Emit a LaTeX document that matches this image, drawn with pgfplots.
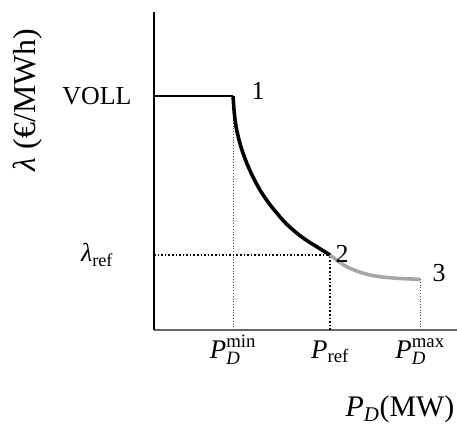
\documentclass[border=0pt]{standalone}
\usepackage{amsmath}
\usepackage{fontspec}
\setmainfont{Liberation Serif}
\usepackage{pgfplots}
\pgfplotsset{compat=1.18}
\begin{document}
\begin{tikzpicture}
\begin{axis}[
  name=ax,
  scale only axis,
  width=303bp, height=318bp,
  xmin=0, xmax=303, ymin=0, ymax=318,
  axis lines=left,
  axis line style={-, line width=1.3pt},
  x axis line style={draw=black!60},
  y axis line style={draw=black},
  clip=false,
  major tick length=0pt,
  xtick={79,176,266},
  xticklabels={{$\text{\itshape P}_{\text{\itshape D}}^{\text{min}}$},{$\text{\itshape P}_{\text{ref}}$},{$\text{\itshape P}_{\text{\itshape D}}^{\text{max}}$}},
  ytick={75,234},
  yticklabels={{$\text{\itshape λ}_{\text{ref}}$},{VOLL}},
  xticklabel style={font=\fontsize{27}{30}\selectfont, anchor=base, yshift=-28bp},
  yticklabel style={font=\fontsize{26}{30}\selectfont, anchor=center, xshift=-57bp},
  xlabel={\textit{P}\textsubscript{\textit{D}}(MW)},
  ylabel={\textit{λ} (€/MWh)},
  xlabel style={font=\fontsize{30}{34}\selectfont, at={(axis cs:246,-79)}, anchor=center},
  ylabel style={font=\fontsize{32}{36}\selectfont, at={(axis cs:-126,230)}, anchor=center, rotate=0},
]
% reference guides
\addplot[black!70, line width=0.8pt, dotted] coordinates {(79,0) (79,234)};
\addplot[black!70, line width=0.8pt, dotted] coordinates {(266,0) (266,50.7)};
\addplot[black, line width=1.6pt, dotted] coordinates {(176,0) (176,75)};
\addplot[black, line width=1.6pt, dotted] coordinates {(0,75) (176,75)};
% VOLL segment
\addplot[black, line width=1.8pt] coordinates {(0,234) (79,234)};
% steep part 1-2
\addplot[black, line width=3.6pt, smooth] coordinates {
 (79,234) (80.5,215) (82.7,200) (87,183) (92.7,167) (99,153) (106,140)
 (114,128) (122.7,117) (132,106.5) (142.7,97) (152,90) (162.7,83.3) (176,75)};
% flat part 2-3
\addplot[black!35, line width=3.6pt, smooth] coordinates {
 (176,75) (184,69) (192.7,63.3) (204,58.5) (216,55) (228,53) (239,52) (252,51.2) (266,50.7)};
\node[font=\fontsize{26}{30}\selectfont] at (axis cs:104,239) {1};
\node[font=\fontsize{26}{30}\selectfont] at (axis cs:188,76) {2};
\node[font=\fontsize{26}{30}\selectfont] at (axis cs:285,57) {3};
\end{axis}
\pgfresetboundingbox
\path ([shift={(-154bp,-96bp)}]ax.south west) rectangle ([shift={(0bp,12bp)}]ax.north east);
\end{tikzpicture}
\end{document}
